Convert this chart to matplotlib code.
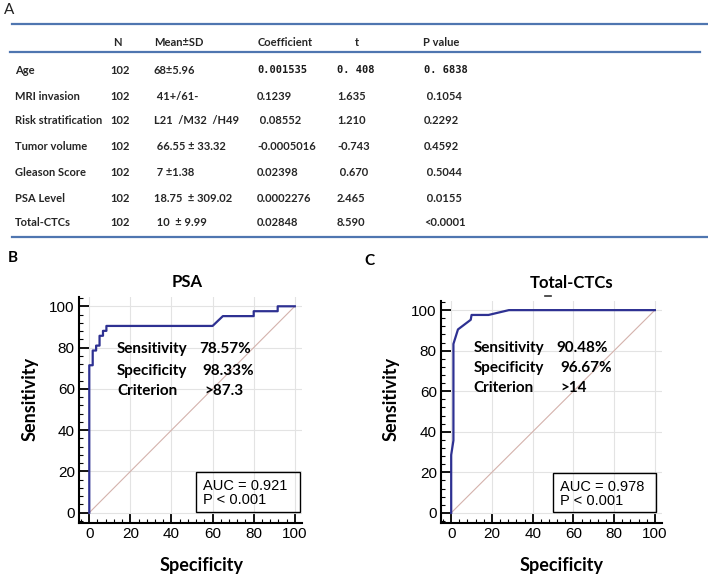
import matplotlib; matplotlib.use("Agg")
import matplotlib.pyplot as plt
from matplotlib.patches import Rectangle
from matplotlib.ticker import MultipleLocator

# ---- table data (panel A) ----
headers = ["N", "Mean±SD", "Coefficient", "t", "P value"]
variables = ["Age", "MRI invasion", "Risk stratification", "Tumor volume",
             "Gleason Score", "PSA Level", "Total-CTCs"]
n_vals = ["102"] * 7
mean_sd = ["68±5.96", " 41+/61-", "L21  /M32  /H49", " 66.55 ± 33.32",
           " 7 ±1.38", "18.75  ± 309.02", " 10  ± 9.99"]
coef = ["0.001535", "0.1239", " 0.08552", "-0.0005016", "0.02398", "0.0002276", "0.02848"]
t_vals = ["0. 408", "1.635", "1.210", "-0.743", " 0.670", "2.465", "8.590"]
p_vals = ["0. 6838", " 0.1054", "0.2292", "0.4592", " 0.5044", " 0.0155", "<0.0001"]

# ---- ROC data (100 - specificity, sensitivity) ----
psa_fpr = [0, 0, 1.67, 1.67, 3.33, 3.33, 5, 5, 6.67, 6.67, 8.33, 8.33, 60, 65, 80, 80, 91.67, 91.67, 100]
psa_tpr = [0, 71.43, 71.43, 78.57, 78.57, 80.95, 80.95, 85.71, 85.71, 88.1, 88.1, 90.48, 90.48,
           95.24, 95.24, 97.62, 97.62, 100, 100]
ctc_fpr = [0, 0, 1.1, 1.1, 3.33, 9.6, 10, 18.33, 28.33, 100]
ctc_tpr = [0, 28.57, 35.71, 83.33, 90.48, 95.24, 97.62, 97.62, 100, 100]

psa_stats = ["Sensitivity", "Specificity", "Criterion"], ["78.57%", "98.33%", ">87.3"]
ctc_stats = ["Sensitivity", "Specificity", "Criterion"], ["90.48%", "96.67%", ">14"]
psa_auc = ["AUC = 0.921", "P < 0.001"]
ctc_auc = ["AUC = 0.978", "P < 0.001"]

TABF = ["Lato", "DejaVu Sans"]
BOLDF = ["Lato", "DejaVu Sans"]
ARIAL = ["Liberation Sans", "DejaVu Sans"]

W, H = 708, 581
fig = plt.figure(figsize=(W / 100, H / 100), dpi=100)

# overlay in pixel coords for table + panel letters
ov = fig.add_axes([0, 0, 1, 1]); ov.set_xlim(0, W); ov.set_ylim(H, 0); ov.axis("off")
LINE = "#4f76b0"
ov.plot([12, 708], [24, 24], color=LINE, lw=1.6)
ov.plot([10, 700], [52, 52], color=LINE, lw=1.6)
ov.plot([12, 708], [237, 237], color=LINE, lw=1.6)
ov.text(4, 10, "A", fontsize=11, family=BOLDF, va="center", color="#222222")
ov.text(8, 258, "B", fontsize=11, family=BOLDF, weight="bold", va="center")
ov.text(364, 261, "C", fontsize=11, family=BOLDF, weight="bold", va="center")

colx = [15, 110, 154, 257, 337, 424]
head_x = [113, 154, 258, 355, 423]
for x, h in zip(head_x, headers):
    ov.text(x, 42, h, fontsize=8, family=TABF, weight="bold", va="center", color="#262626")
row_y = [70, 96, 121, 147, 172, 198, 223]
for i, y in enumerate(row_y):
    cells = [variables[i], n_vals[i], mean_sd[i], coef[i], t_vals[i], p_vals[i]]
    for j, (x, c) in enumerate(zip(colx, cells)):
        if i == 0 and j >= 3:
            ov.text(x, y, c, fontsize=7.5, family=["DejaVu Sans Mono"], weight="bold",
                    va="center", color="#1a1a1a")
        else:
            ov.text(x, y, c, fontsize=8, family=TABF, weight="bold", va="center",
                    color="#262626")


def roc_panel(rect, fpr, tpr, title, tx, ty, stats, stat_pos, val_x, auc, box):
    ax = fig.add_axes(rect)
    ax.set_xlim(-5, 103.5); ax.set_ylim(-5, 104.5)
    ax.set_xticks(range(0, 101, 20)); ax.set_yticks(range(0, 101, 20))
    ax.xaxis.set_minor_locator(MultipleLocator(4)); ax.yaxis.set_minor_locator(MultipleLocator(4))
    ax.grid(True, which="major", color="#e3e3e3", lw=0.8)
    ax.set_axisbelow(True)
    for s in ["top", "right"]:
        ax.spines[s].set_visible(False)
    for s in ["left", "bottom"]:
        ax.spines[s].set_linewidth(1.5)
    ax.tick_params(which="major", direction="in", length=7, width=1.3, labelsize=11, pad=3)
    ax.tick_params(which="minor", direction="in", length=3, width=0.8)
    for lab in ax.get_xticklabels() + ax.get_yticklabels():
        lab.set_family(ARIAL)
    ax.plot([0, 100], [0, 100], color="#d4b2ac", lw=0.8)
    ax.plot(fpr, tpr, color="#2e3192", lw=1.6)
    ax.text(tx, ty, title, transform=ax.transAxes, ha="center", va="center",
            fontsize=12, weight="bold", family=BOLDF)
    labels, values = stats
    for (x, y), lab, vx, v in zip(stat_pos, labels, val_x, values):
        ax.text(x, y, lab, fontsize=11, weight="bold", family=BOLDF, va="center")
        ax.text(vx, y, v, fontsize=11, weight="bold", family=BOLDF, va="center")
    bx0, by0, bx1, by1 = box
    ax.add_patch(Rectangle((bx0, by0), bx1 - bx0, by1 - by0, fill=False, ec="black", lw=1.0,
                           clip_on=False))
    ax.text(bx0 + 3.5, 13, auc[0], fontsize=10.5, family=ARIAL, va="center")
    ax.text(bx0 + 3.5, 6.0, auc[1], fontsize=10.5, family=ARIAL, va="center")
    return ax


axb = roc_panel([79 / W, 1 - 523 / H, 223 / W, 226 / H], psa_fpr, psa_tpr, "PSA", 0.487, 1.066,
                psa_stats, [(13.5, 79.2), (13.5, 68.6), (13.5, 58.9)], [53.6, 55, 56],
                psa_auc, (52, 0.5, 102.4, 19.8))
axc = roc_panel([441 / W, 1 - 523 / H, 221 / W, 222 / H], ctc_fpr, ctc_tpr, "Total-CTCs", 0.593, 1.081,
                ctc_stats, [(10.9, 81.3), (10.9, 71.4), (10.9, 61.6)], [51.5, 53.5, 53.5],
                ctc_auc, (50, 0.3, 100.5, 19.7))

# axis titles
ov.text(30, 399, "Sensitivity", rotation=90, fontsize=13, weight="bold", family=BOLDF,
        ha="center", va="center")
ov.text(202, 566, "Specificity", fontsize=13, weight="bold", family=BOLDF, ha="center", va="center")
ov.text(391, 399, "Sensitivity", rotation=90, fontsize=13, weight="bold", family=BOLDF,
        ha="center", va="center")
ov.text(562, 566, "Specificity", fontsize=13, weight="bold", family=BOLDF, ha="center", va="center")
ov.plot([545, 551], [296, 296], color="#333333", lw=1.2)

fig.savefig("out.png", dpi=100)
